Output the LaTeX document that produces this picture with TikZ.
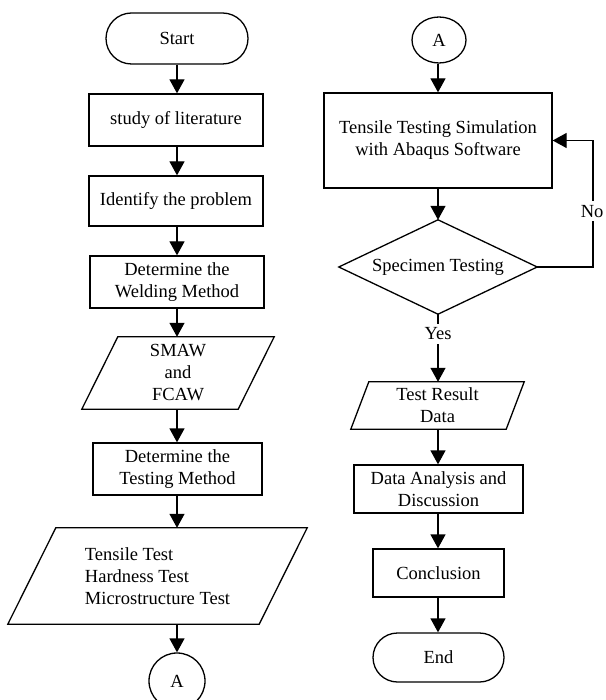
\documentclass[tikz,border=0pt]{standalone}
\usepackage{fontspec}
\setmainfont{Liberation Serif}
\usetikzlibrary{shapes.geometric,shapes.misc,arrows.meta}
\begin{document}
\begin{tikzpicture}[x=1pt,y=-1pt,
  every node/.style={font=\fontsize{18.5}{22}\selectfont},
  lw/.style={line width=1.3pt},
  procbox/.style={draw, lw, rectangle, align=center, inner sep=0pt},
  term/.style={draw, lw, rounded rectangle, inner sep=0pt},
  conn/.style={draw, lw, ellipse, inner sep=0pt},
  iotext/.style={inner sep=0pt, align=center},
  ioline/.style={lw, line join=miter},
  arr/.style={lw, -{Triangle[width=15pt,length=14pt]}},
  lbl/.style={fill=white, inner xsep=1pt, inner ysep=4pt}
]
\useasboundingbox (0,0) rectangle (605,700);
\clip (0,0) rectangle (605,700);

% ---------- left column ----------
\node[term, minimum width=142pt, minimum height=51pt] (start) at (177,38.5) {Start};
\node[procbox, minimum width=174pt, minimum height=52pt] (lit) at (176,120) {study of literature};
\node[procbox, minimum width=174pt, minimum height=50pt] (prob) at (176,201) {Identify the problem};
\node[procbox, minimum width=174pt, minimum height=52pt] (weld) at (177,282) {Determine the\\Welding Method};
\node[iotext, minimum width=192pt, minimum height=72pt] (smaw) at (178,373) {SMAW\\and\\FCAW};
\draw[ioline] ([xshift=36pt]smaw.north west) -- (smaw.north east)
   -- ([xshift=-36pt]smaw.south east) -- (smaw.south west) -- cycle;
\node[procbox, minimum width=169pt, minimum height=52pt] (tmeth) at (177.5,469) {Determine the\\Testing Method};
\node[iotext, align=left, minimum width=299pt, minimum height=96pt] (tests) at (157.5,576) {Tensile Test\\Hardness Test\\Microstructure Test};
\draw[ioline] ([xshift=48pt]tests.north west) -- (tests.north east)
   -- ([xshift=-48pt]tests.south east) -- (tests.south west) -- cycle;
\node[conn, minimum width=56pt, minimum height=56pt] (a1) at (177,681) {A};

\draw[arr] (start.south) -- (start.south |- lit.north);
\draw[arr] (start.south |- lit.south) -- (start.south |- prob.north);
\draw[arr] (start.south |- prob.south) -- (start.south |- weld.north);
\draw[arr] (weld.south) -- (weld.south |- smaw.north);
\draw[arr] (weld.south |- smaw.south) -- (weld.south |- tmeth.north);
\draw[arr] (tmeth.south -| a1.north) -- (a1.north |- tests.north);
\draw[arr] (a1.north |- tests.south) -- (a1.north);

% ---------- right column ----------
\node[conn, minimum width=54pt, minimum height=46pt] (a2) at (439,40) {A};
\node[procbox, minimum width=228pt, minimum height=95pt] (sim) at (438,140.5) {Tensile Testing Simulation\\with Abaqus Software};
\node[iotext, minimum width=198pt, minimum height=94pt] (spec) at (438,267) {Specimen Testing};
\draw[ioline] (spec.north) -- (spec.east) -- (spec.south) -- (spec.west) -- cycle;
\node[iotext, minimum width=173pt, minimum height=47pt] (res) at (437.5,405.5) {Test Result\\Data};
\draw[ioline] ([xshift=18pt]res.north west) -- (res.north east)
   -- ([xshift=-18pt]res.south east) -- (res.south west) -- cycle;
\node[procbox, minimum width=169pt, minimum height=48pt] (anal) at (438.5,489) {Data Analysis and\\Discussion};
\node[procbox, minimum width=131pt, minimum height=48pt] (conc) at (438.5,573) {Conclusion};
\node[term, minimum width=131pt, minimum height=49pt] (end) at (438.5,657.5) {End};

\coordinate (loop) at (593,267);
\draw[arr] (a2.south -| sim.north) -- (sim.north);
\draw[arr] (sim.south) -- (spec.north);
\draw[arr] (spec.south) -- (spec.south |- res.north) node[lbl, pos=0.29] {Yes};
\draw[arr] (res.south -| spec.south) -- (spec.south |- anal.north);
\draw[arr] (spec.south |- anal.south) -- (spec.south |- conc.north);
\draw[arr] (spec.south |- conc.south) -- (spec.south |- end.north);
\draw[arr] (spec.east) -- (loop) |- (sim.east) node[lbl, pos=0.22, anchor=east, xshift=12pt] {No};
\end{tikzpicture}
\end{document}
